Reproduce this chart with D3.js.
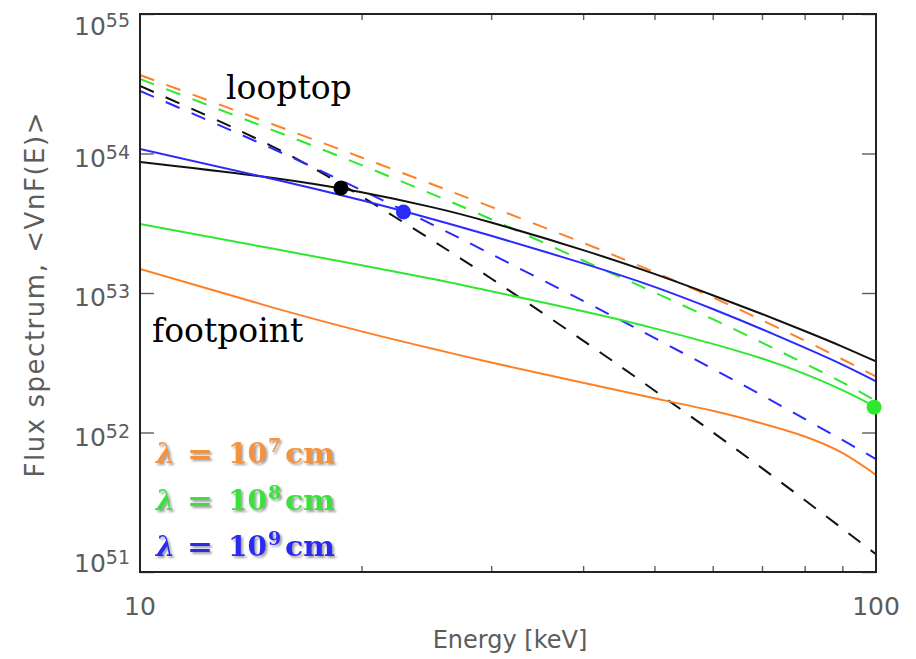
<!DOCTYPE html>
<html>
<head>
<meta charset="utf-8">
<script src="https://cdn.jsdelivr.net/npm/d3@7"></script>
<style>
  body { margin: 0; background: #fff; }
  svg { display: block; }
</style>
</head>
<body>
<svg id="chart" width="916" height="659"></svg>
<script>
// Photon energies (keV) at which each spectrum is sampled
const energies = [10, 15, 20, 25, 30, 40, 50, 60, 70, 80, 90, 100];

// Footpoint spectra (solid)
const footNoScatter = [8.69e53, 6.72e53, 5.27e53, 4.11e53, 3.20e53, 2.03e53, 1.37e53, 9.64e52, 7.07e52, 5.34e52, 4.13e52, 3.23e52];
const foot1e9 = [1.077e54, 6.65e53, 4.62e53, 3.38e53, 2.57e53, 1.63e53, 1.106e53, 7.68e52, 5.50e52, 4.06e52, 3.07e52, 2.33e52];
const foot1e8 = [3.12e53, 2.10e53, 1.58e53, 1.26e53, 1.03e53, 7.39e52, 5.58e52, 4.32e52, 3.39e52, 2.63e52, 2.01e52, 1.52e52];
const foot1e7 = [1.486e53, 7.99e52, 5.31e52, 3.98e52, 3.18e52, 2.27e52, 1.76e52, 1.43e52, 1.16e52, 9.36e51, 7.13e51, 4.96e51];

// Looptop spectra (dashed)
const loopNoScatter = [3.05e54, 1.15e54, 4.92e53, 2.37e53, 1.27e53, 4.56e52, 2.00e52, 1.005e52, 5.55e51, 3.28e51, 2.05e51, 1.34e51];
const loop1e9 = [2.81e54, 1.106e54, 5.46e53, 3.08e53, 1.90e53, 8.78e52, 4.76e52, 2.86e52, 1.85e52, 1.25e52, 8.84e51, 6.44e51];
const loop1e8 = [3.42e54, 1.50e54, 8.25e53, 5.09e53, 3.38e53, 1.71e53, 1.01e53, 6.49e52, 4.41e52, 3.12e52, 2.29e52, 1.68e52];
const loop1e7 = [3.65e54, 1.65e54, 9.36e53, 5.99e53, 4.14e53, 2.29e53, 1.41e53, 9.30e52, 6.39e52, 4.56e52, 3.35e52, 2.52e52];

// Marked points: energy (keV), flux, colour
const markerEnergy = [18.75, 22.8, 99.4];
const markerFlux = [5.66e53, 3.81e53, 1.52e52];
const markerColor = ["#000000", "#2a2aff", "#2ee82e"];

// Axis ticks
const yDecades = [1e51, 1e52, 1e53, 1e54, 1e55];
const xMinorTicks = [20, 30, 40, 50, 60, 70, 80, 90];
const xLabelTicks = [10, 100];

// Legend entries: λ = 10^n cm
const legendExponent = ["7", "8", "9"];
const legendColor = ["#f5923e", "#3be03b", "#2b2bf0"];

const C = { black: "#111111", blue: "#2a2aff", green: "#2ee82e", orange: "#ff8024" };

const series = [
  { v: loop1e7, color: C.orange, dash: true },
  { v: loop1e8, color: C.green, dash: true },
  { v: loopNoScatter, color: C.black, dash: true },
  { v: loop1e9, color: C.blue, dash: true },
  { v: foot1e7, color: C.orange, dash: false },
  { v: foot1e8, color: C.green, dash: false },
  { v: footNoScatter, color: C.black, dash: false },
  { v: foot1e9, color: C.blue, dash: false }
];

const svg = d3.select("#chart");
const L = 140, R = 876, T = 14, B = 572;

const x = d3.scaleLog().domain([10, 100]).range([L, R]);
const y = d3.scaleLog().domain([1e51, 1e55]).range([B, T]);

const defs = svg.append("defs");
defs.append("clipPath").attr("id", "plotClip")
  .append("rect").attr("x", L).attr("y", T).attr("width", R - L).attr("height", B - T);
const shadow = defs.append("filter").attr("id", "shadow")
  .attr("x", "-10%").attr("y", "-20%").attr("width", "130%").attr("height", "150%");
shadow.append("feDropShadow").attr("dx", 2).attr("dy", 2).attr("stdDeviation", 1.2)
  .attr("flood-color", "#777").attr("flood-opacity", 0.7);

const axisColor = "#5c5c5c";
const axisFont = "'DejaVu Sans', sans-serif";

// Axes: ticks only, labels drawn separately
function styleAxis(g) {
  g.select(".domain").remove();
  g.selectAll(".tick line").attr("stroke", axisColor).attr("stroke-width", 1.4);
  g.selectAll(".tick text").remove();
}
svg.append("g").attr("transform", `translate(${L},0)`)
  .call(d3.axisLeft(y).tickValues(yDecades).tickSize(-14).tickFormat(""))
  .call(styleAxis);
svg.append("g").attr("transform", `translate(${R},0)`)
  .call(d3.axisRight(y).tickValues(yDecades).tickSize(-14).tickFormat(""))
  .call(styleAxis);
svg.append("g").attr("transform", `translate(0,${B})`)
  .call(d3.axisBottom(x).tickValues(xMinorTicks).tickSize(-6).tickFormat(""))
  .call(styleAxis);
svg.append("g").attr("transform", `translate(0,${T})`)
  .call(d3.axisTop(x).tickValues(xMinorTicks).tickSize(-6).tickFormat(""))
  .call(styleAxis);

// Y tick labels as 10^n
const yLab = svg.append("g").attr("font-family", axisFont).attr("fill", axisColor);
yDecades.forEach(d => {
  const base = Math.max(35, Math.min(B, y(d) + 13));
  const t = yLab.append("text").attr("x", 130).attr("y", base).attr("text-anchor", "end");
  t.append("tspan").attr("font-size", 25).text("10");
  t.append("tspan").attr("font-size", 19).attr("dy", -8).text(String(Math.round(Math.log10(d))));
});

// X tick labels
svg.append("g").selectAll("text").data(xLabelTicks).join("text")
  .attr("x", d => x(d)).attr("y", 615).attr("text-anchor", "middle")
  .attr("font-family", axisFont).attr("font-size", 25).attr("fill", axisColor)
  .text(d => d);

// Axis titles
svg.append("text").attr("x", 510).attr("y", 648).attr("text-anchor", "middle")
  .attr("font-family", axisFont).attr("font-size", 24).attr("fill", axisColor)
  .text("Energy [keV]");
svg.append("text").attr("transform", "translate(44,295) rotate(-90)").attr("text-anchor", "middle")
  .attr("font-family", axisFont).attr("font-size", 26).attr("fill", axisColor)
  .attr("textLength", 365).attr("lengthAdjust", "spacing")
  .text("Flux spectrum, <VnF(E)>");

// Spectra (smooth spline through the sampled points, in log-log screen space)
const line = d3.line()
  .x((d, i) => x(energies[i]))
  .y(d => y(d))
  .curve(d3.curveNatural);

const plot = svg.append("g").attr("clip-path", "url(#plotClip)");
plot.selectAll("path.spec").data(series).join("path")
  .attr("class", "spec")
  .attr("d", s => line(s.v))
  .attr("fill", "none")
  .attr("stroke", s => s.color)
  .attr("stroke-width", 2)
  .attr("stroke-dasharray", s => s.dash ? "15,13" : null);

// Frame
svg.append("rect").attr("x", L).attr("y", T).attr("width", R - L).attr("height", B - T)
  .attr("fill", "none").attr("stroke", "#222").attr("stroke-width", 2);

// Markers
svg.append("g").selectAll("circle").data(markerEnergy).join("circle")
  .attr("cx", d => x(d))
  .attr("cy", (d, i) => y(markerFlux[i]))
  .attr("r", 7.5)
  .attr("fill", (d, i) => markerColor[i]);

// Region annotations
const serif = "'DejaVu Serif', serif";
svg.append("text").attr("x", 226).attr("y", 99).attr("font-family", serif)
  .attr("font-size", 33).attr("fill", "#000").text("looptop");
svg.append("text").attr("x", 152).attr("y", 342).attr("font-family", serif)
  .attr("font-size", 33).attr("fill", "#000").text("footpoint");

// Legend: λ = 10^n cm
const leg = svg.append("g").attr("font-family", serif).attr("font-weight", "bold")
  .attr("filter", "url(#shadow)");
legendExponent.forEach((e, i) => {
  const base = 463 + i * 46.7;
  const g = leg.append("g").attr("fill", legendColor[i]);
  g.append("text").attr("x", 156).attr("y", base).attr("font-size", 27)
    .attr("font-style", "italic").text("λ");
  g.append("text").attr("x", 187).attr("y", base).attr("font-size", 27)
    .attr("textLength", 26).attr("lengthAdjust", "spacingAndGlyphs").text("=");
  g.append("text").attr("x", 228).attr("y", base).attr("font-size", 27)
    .attr("textLength", 39).attr("lengthAdjust", "spacingAndGlyphs").text("10");
  g.append("text").attr("x", 268).attr("y", base - 11).attr("font-size", 19).text(e);
  g.append("text").attr("x", 285).attr("y", base).attr("font-size", 27)
    .attr("textLength", 50).attr("lengthAdjust", "spacingAndGlyphs").text("cm");
});
</script>
</body>
</html>
